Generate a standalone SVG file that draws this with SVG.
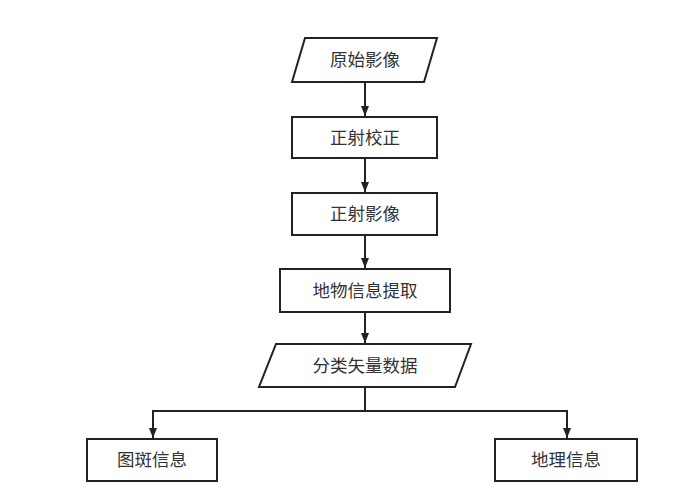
<svg xmlns="http://www.w3.org/2000/svg" width="687" height="500" viewBox="0 0 687 500">
<defs>
<marker id="arr" markerWidth="10" markerHeight="12" refX="10" refY="5" orient="auto" markerUnits="userSpaceOnUse" viewBox="0 0 10 10">
<path d="M0,1 L10,5 L0,9 Z" fill="#222"/>
</marker>
</defs>
<style>
.s{fill:#fff;stroke:#222;stroke-width:2}
.t{font-family:"Liberation Sans","Noto Sans CJK SC",sans-serif;font-size:17.5px;fill:#333;text-anchor:middle;dominant-baseline:central}
.c{fill:none;stroke:#222;stroke-width:2}
</style>
<rect width="687" height="500" fill="#fff"/>
<g id="connectors">
<path class="c" d="M365,82 V116" marker-end="url(#arr)"/>
<path class="c" d="M365,158 V192" marker-end="url(#arr)"/>
<path class="c" d="M365,235 V268" marker-end="url(#arr)"/>
<path class="c" d="M365,312 V343" marker-end="url(#arr)"/>
<path class="c" d="M365,387 V411 H153 V438" marker-end="url(#arr)"/>
<path class="c" d="M365,411 H567 V438" marker-end="url(#arr)"/>
</g>
<g id="n1"><polygon class="s" points="305,38 437,38 424,82 292,82"/><text class="t" x="365" y="60">原始影像</text></g>
<g id="n2"><rect class="s" x="292" y="117" width="145" height="41"/><text class="t" x="365" y="137.5">正射校正</text></g>
<g id="n3"><rect class="s" x="292" y="193" width="145" height="42"/><text class="t" x="365" y="214">正射影像</text></g>
<g id="n4"><rect class="s" x="280" y="269" width="170" height="43"/><text class="t" x="365" y="290.5">地物信息提取</text></g>
<g id="n5"><polygon class="s" points="276,344 471,344 455,387 259,387"/><text class="t" x="365" y="365.5">分类矢量数据</text></g>
<g id="n6"><rect class="s" x="87" y="439" width="130" height="42"/><text class="t" x="152" y="460">图斑信息</text></g>
<g id="n7"><rect class="s" x="495" y="439" width="142" height="42"/><text class="t" x="566" y="460">地理信息</text></g>
</svg>
